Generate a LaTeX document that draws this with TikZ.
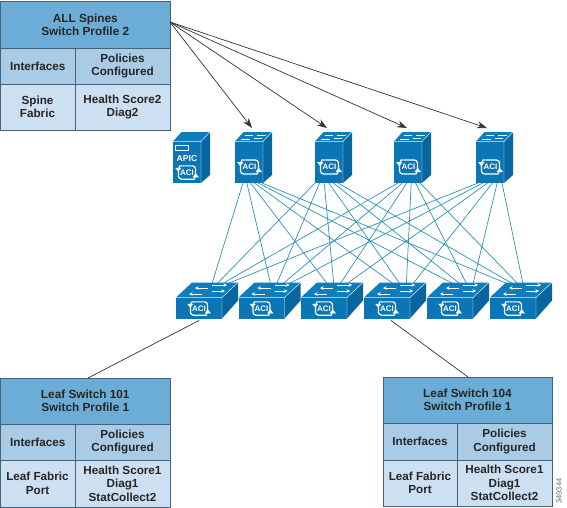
\documentclass[tikz,border=0pt]{standalone}
\usepackage{fontspec}
\setmainfont{Liberation Sans}
\usetikzlibrary{calc,arrows.meta}
\definecolor{hdr}{HTML}{6CADD7}
\definecolor{rowa}{HTML}{A9CBE6}
\definecolor{rowb}{HTML}{CDE0F1}
\definecolor{edge}{HTML}{46617A}
\definecolor{front}{HTML}{0A76B6}
\definecolor{topc}{HTML}{0F7CBC}
\definecolor{sidec}{HTML}{07659F}
\definecolor{fab}{HTML}{2E93B8}
\tikzset{
  x=1pt,y=-1pt,
  cell/.style={draw=edge,line width=0.9pt},
  lbl/.style={font=\bfseries\fontsize{11.7}{13.4}\selectfont,align=center,text=black!85,inner sep=0pt},
  hlbl/.style={font=\bfseries\fontsize{11.8}{13.4}\selectfont,align=center,text=black!85,inner sep=0pt},
  fabric/.style={draw=fab,line width=0.7pt},
  link/.style={draw=black!80,line width=0.7pt},
  arrowlink/.style={draw=black!80,line width=0.7pt,-{Stealth[length=10pt,width=7pt]}},
  anchorbox/.style={inner sep=0pt,outer sep=0pt},
  wl/.style={draw=white,line width=1.2pt},
  aci/.pic={
    \draw[wl,rounded corners=3pt] (-9,-7) rectangle (9,7);
    \fill[front] (-12,-8.5) rectangle (-5,-2);
    \fill[front] (5,2) rectangle (12,8.5);
    \draw[wl] (-5,-7) -- (-7.5,-7) -- (-8.8,-4);
    \fill[white] (-12.5,-5) -- (-6,-5) -- (-9.2,-0.8) -- cycle;
    \draw[wl] (5,7) -- (7.5,7) -- (8.8,4);
    \fill[white] (12.5,5) -- (6,5) -- (9.2,0.8) -- cycle;
    \node[anchorbox,text=white,font=\bfseries\fontsize{8}{8}\selectfont] at (0,0) {ACI};
  },
  server/.pic={
    \fill[front] (0,9.5) rectangle (28,51);
    \fill[topc] (0,9.5) -- (8.5,0) -- (37,0) -- (28,9.5) -- cycle;
    \fill[sidec] (28,9.5) -- (37,0) -- (37,43) -- (28,51) -- cycle;
    \draw[white,line width=0.4pt] (0,9.5) -- (28,9.5) -- (37,0) (28,9.5) -- (28,51);
    \draw[white,line width=0.8pt] (10,3.5) -- (18,3.5) (22,3) -- (31,3) (6,7) -- (15,7) (19,6.5) -- (27,6.5);
    \path (14.5,35) pic {aci};
  },
  apic/.pic={
    \fill[front] (0,9.5) rectangle (28,51);
    \fill[topc] (0,9.5) -- (8.5,0) -- (37,0) -- (28,9.5) -- cycle;
    \fill[sidec] (28,9.5) -- (37,0) -- (37,43) -- (28,51) -- cycle;
    \draw[white,line width=0.4pt] (0,9.5) -- (28,9.5) -- (37,0) (28,9.5) -- (28,51);
    \draw[white,line width=0.5pt] (2,13) rectangle (15,18);
    \node[anchorbox,text=white,font=\bfseries\fontsize{8.6}{9}\selectfont] at (14,26.5) {APIC};
    \path (14,40.5) pic[scale=0.95] {aci};
  },
  leafbox/.pic={
    \fill[front] (0,15) rectangle (46,36);
    \fill[topc] (0,15) -- (16,0) -- (62,0) -- (46,15) -- cycle;
    \fill[sidec] (46,15) -- (62,0) -- (62,18) -- (46,36) -- cycle;
    \draw[white,line width=0.4pt] (0,15) -- (46,15) -- (62,0) (46,15) -- (46,36);
    \draw[white,line width=0.8pt,-{Stealth[length=3.5pt,width=3.5pt]}] (36,2.5) -- (51,2.5);
    \draw[white,line width=0.8pt,-{Stealth[length=3.5pt,width=3.5pt]}] (32,5.5) -- (19,5.5);
    \draw[white,line width=0.8pt,-{Stealth[length=3.5pt,width=3.5pt]}] (36,8.5) -- (49,8.5);
    \draw[white,line width=0.8pt,-{Stealth[length=3.5pt,width=3.5pt]}] (26,11.5) -- (13,11.5);
    \path (23,26) pic[scale=0.95] {aci};
  },
}
\newcommand{\proftable}[9]{%
  % #1 name #2 x0 #3 y0 #4 xsplit #5 x1 #6 y1 #7 y2 #8 y3 #9 title
  \fill[hdr] (#2,#3) rectangle (#5,#6);
  \fill[rowa] (#2,#6) rectangle (#5,#7);
  \fill[rowb] (#2,#7) rectangle (#5,#8);
  \draw[cell] (#2,#3) rectangle (#5,#8);
  \draw[cell] (#2,#6) -- (#5,#6) (#2,#7) -- (#5,#7) (#4,#6) -- (#4,#8);
  \node[hlbl] (#1) at ({(#2+#5)/2},{(#3+#6)/2}) {#9};
  \node[lbl] (#1i) at ({(#2+#4)/2},{(#6+#7)/2}) {Interfaces};
  \node[lbl] (#1p) at ({(#4+#5)/2},{(#6+#7)/2}) {Policies\\Configured};
}
\begin{document}
\begin{tikzpicture}
\useasboundingbox (0,0) rectangle (567,508);
\fill[white] (0,0) rectangle (567,508);
% anchors for devices
\foreach \n/\xx in {s1/235,s2/315,s3/394,s4/476}
  \node[anchorbox,minimum width=28pt,minimum height=41pt] (\n) at (\xx+14,162.5) {};
\foreach \n/\xx in {l1/176,l2/238.5,l3/301,l4/364,l5/427,l6/490}
  \node[anchorbox,minimum width=62pt,minimum height=36pt] (\n) at (\xx+31,300.5) {};
% fabric: spine name/index/first offset/step, leaf name/first offset/step
\foreach \s/\si/\sa/\sb in {s1/0/-6/3.8,s2/1/-14/4.6,s3/2/-10/4.4,s4/3/-12/4.8}
  \foreach \l/\li/\la/\lb in {l1/0/5/5.3,l2/1/1/6.3,l3/2/-5/6.7,l4/3/-2/6.7,l5/4/-5/6.7,l6/5/-14/5.3}
    \draw[fabric] ($(\s.south)+({\sa+\li*\sb},0)$) -- ($(\l.north)+({\la+\si*\lb},1)$);
% devices
\path (173,132) pic {apic};
\foreach \xx in {235,315,394,476} \path (\xx,132) pic {server};
\foreach \xx in {176,238.5,301,364,427,490} \path (\xx,282.5) pic {leafbox};
% tables
\proftable{top}{0.5}{1}{75}{170}{48}{84}{130}{ALL Spines\\Switch Profile 2}
\node[lbl] (topa) at (37.5,107) {Spine\\Fabric};
\node[lbl] (topb) at (122.5,107) {Health Score2\\Diag2};
\proftable{lfa}{0.5}{378}{75}{170}{424}{460}{507}{Leaf Switch 101\\Switch Profile 1}
\node[lbl] (lfaa) at (37.5,483.5) {Leaf Fabric\\Port};
\node[lbl] (lfab) at (122.5,483.5) {Health Score1\\Diag1\\StatCollect2};
\proftable{lfb}{383}{377}{457}{552}{423}{460}{506}{Leaf Switch 104\\Switch Profile 1}
\node[lbl] (lfba) at (420,483) {Leaf Fabric\\Port};
\node[lbl] (lfbb) at (504.5,483) {Health Score1\\Diag1\\StatCollect2};
% connectors
\coordinate (tstart) at (170,22);
\foreach \n/\dx in {s1/3,s2/-2,s3/-1,s4/-3}
  \draw[arrowlink] (tstart) -- ($(\n.north)+(\dx,-14)$);
\draw[link] ($(l1.south)+(-8,2)$) -- (88,378);
\draw[link] ($(l4.south)+(-4,2)$) -- (468,377);
\node[anchorbox,rotate=90,text=black!60,font=\fontsize{7.5}{8}\selectfont] (code) at (559,491) {349344};
\end{tikzpicture}
\end{document}
